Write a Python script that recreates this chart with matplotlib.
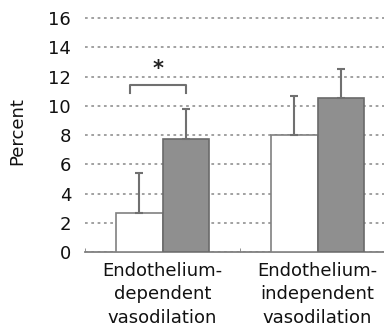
import matplotlib.pyplot as plt
import numpy as np

# data
categories = ["Endothelium-\ndependent\nvasodilation", "Endothelium-\nindependent\nvasodilation"]
white_vals = [2.7, 8.0]
white_err = [2.7, 2.7]
gray_vals = [7.7, 10.55]
gray_err = [2.05, 1.95]
yticks = [0, 2, 4, 6, 8, 10, 12, 14, 16]

fig = plt.figure(figsize=(3.84, 3.32), dpi=100)
ax = fig.add_axes([85 / 384, 80 / 332, 310 / 384, 241.3 / 332])

x = np.arange(len(categories))
w = 0.297
ax.bar(x - w / 2, white_vals, w, color="white", edgecolor="#808080", linewidth=1.2, zorder=3)
ax.bar(x + w / 2, gray_vals, w, color="#8f8f8f", edgecolor="#6a6a6a", linewidth=1.2, zorder=3)
ax.errorbar(x - w / 2, white_vals, yerr=[np.zeros(2), white_err], fmt="none",
            ecolor="#707070", elinewidth=1.5, capsize=3, capthick=1.5, zorder=4)
ax.errorbar(x + w / 2, gray_vals, yerr=[np.zeros(2), gray_err], fmt="none",
            ecolor="#707070", elinewidth=1.5, capsize=3, capthick=1.5, zorder=4)

# significance bracket
bx0, bx1, btop, bleg = -0.21, 0.15, 11.4, 10.85
ax.plot([bx0, bx0, bx1, bx1], [bleg, btop, btop, bleg], color="#707070", lw=1.5, zorder=4)
ax.text((bx0 + bx1) / 2, btop + 0.45, "*", ha="center", va="bottom", fontsize=15,
        fontweight="bold", color="#222222")

ax.set_xlim(-0.5, 1.5)
ax.set_ylim(0, 16.5)
ax.set_yticks(yticks)
ax.yaxis.grid(True, linestyle=(0, (1.5, 2)), color="#9a9a9a", linewidth=1.3, zorder=0)
ax.set_axisbelow(True)
for s in ["left", "top", "right"]:
    ax.spines[s].set_visible(False)
ax.spines["bottom"].set_color("#808080")
ax.spines["bottom"].set_linewidth(1.3)
ax.tick_params(axis="y", length=0, pad=10, labelsize=13, labelcolor="#111111")
ax.set_xticks(x)
ax.set_xticklabels(categories, fontsize=13, linespacing=1.4, color="#111111")
ax.tick_params(axis="x", length=0, pad=7)
ax.set_xticks([-0.5, 0.5, 1.5], minor=True)
ax.tick_params(axis="x", which="minor", direction="in", length=3, color="#808080")
ax.set_ylabel("Percent", fontsize=13, color="#111111", labelpad=16)

fig.savefig("out.png", dpi=100)
